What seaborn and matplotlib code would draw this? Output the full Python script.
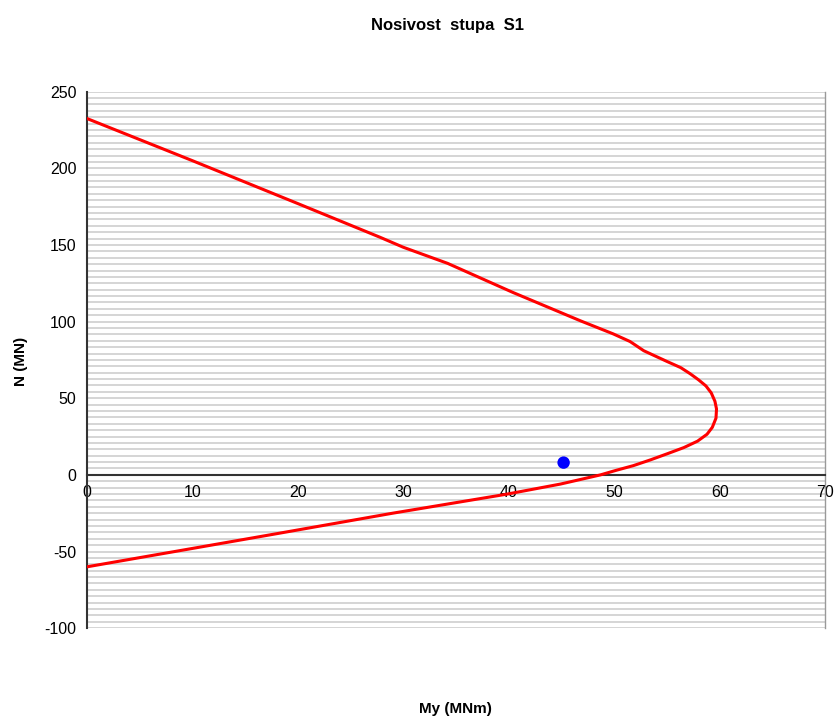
import numpy as np
import pandas as pd
import matplotlib
matplotlib.use("Agg")
import matplotlib.pyplot as plt
import seaborn as sns

# interaction curve points (My in MNm, N in MN)
my_curve = [0, 10, 20, 27.8, 30, 34.2, 40.4, 46.8, 49.9, 51.5, 52.8, 55.0,
            56.3, 57.2, 58.0, 58.7, 59.2, 59.55, 59.7, 59.65, 59.3, 58.8,
            57.9, 56.6, 55.0, 53.4, 51.8, 50.2, 48.7, 44.9, 39.8, 29.0, 18.3,
            10, 0]
n_curve = [232.5, 205, 177, 155, 148.5, 138, 119, 100.5, 92, 87, 81, 74,
           70, 66, 62, 58, 53.5, 48, 43, 37, 31, 26.5,
           22, 17.8, 13.7, 9.7, 6, 3, 0, -6, -12.6, -25, -38,
           -48, -60]

# load point
my_load = [45.2]
n_load = [8.0]

x_ticks = [0, 10, 20, 30, 40, 50, 60, 70]
y_ticks = [-100, -50, 0, 50, 100, 150, 200, 250]

sns.set_style("white")
plt.rcParams["font.family"] = ["Liberation Sans", "DejaVu Sans"]
plt.rcParams["axes.unicode_minus"] = False

curve = pd.DataFrame({"My": my_curve, "N": n_curve})
load = pd.DataFrame({"My": my_load, "N": n_load})

fig = plt.figure(figsize=(8.36, 7.22), dpi=100)
ax = fig.add_axes([0.104, 0.130, 0.883, 0.743])

# Excel-like striped plot area fill
for yy in np.arange(-100, 250.01, 50 / 12):
    ax.axhline(yy, color="#d2d2d2", lw=1.3, zorder=0)

sns.lineplot(data=curve, x="My", y="N", sort=False, estimator=None,
             color="#ff0000", lw=2.2, ax=ax, zorder=3)
sns.scatterplot(data=load, x="My", y="N", color="#0000ff", s=80,
                edgecolor="none", ax=ax, zorder=4)

ax.set_xlim(0, 70)
ax.set_ylim(-100, 250)
ax.set_xticks(x_ticks)
ax.set_yticks(y_ticks)
ax.tick_params(axis="both", direction="inout", length=8, width=1.2,
               labelsize=11.5, colors="#333333", labelcolor="black")
ax.spines["bottom"].set_position(("data", 0))
ax.spines["bottom"].set_color("#333333")
ax.spines["bottom"].set_linewidth(1.5)
ax.spines["left"].set_color("#333333")
ax.spines["left"].set_linewidth(1.5)
ax.spines["top"].set_visible(False)
ax.spines["right"].set_color("#999999")
ax.spines["right"].set_linewidth(1.0)

ax.set_xlabel("")
ax.set_ylabel("")
fig.text(0.535, 0.965, "Nosivost  stupa  S1", ha="center", va="center",
         fontsize=12, fontweight="bold", color="black")
fig.text(0.545, 0.018, "My (MNm)", ha="center", va="center",
         fontsize=11, fontweight="bold", color="black")
fig.text(0.025, 0.5, "N (MN)", ha="center", va="center", rotation=90,
         fontsize=11, fontweight="bold", color="black")

fig.savefig("out.png", dpi=100)
plt.close(fig)
